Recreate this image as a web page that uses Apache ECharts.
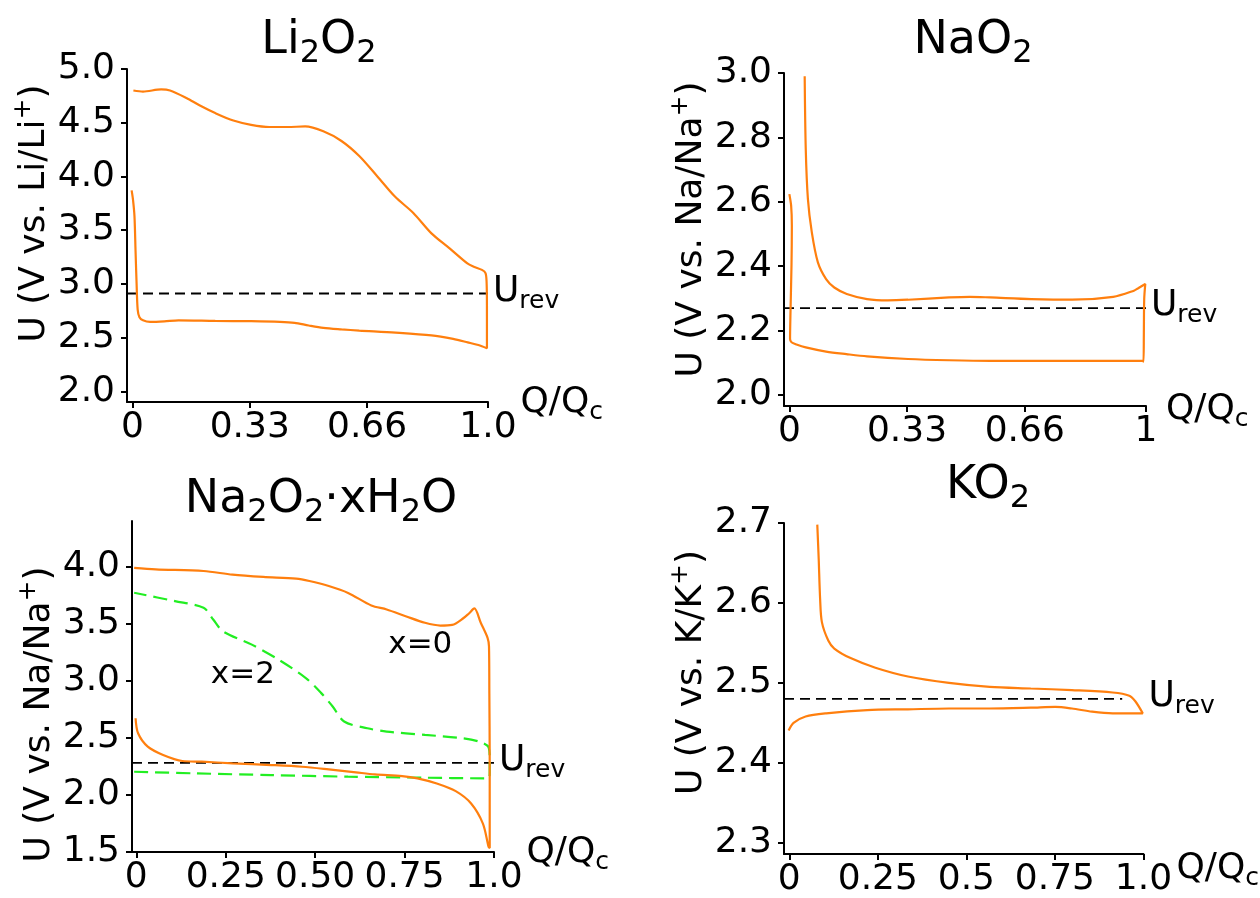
<!DOCTYPE html>
<html>
<head>
<meta charset="utf-8">
<script src="https://cdn.jsdelivr.net/npm/echarts@6/dist/echarts.min.js"></script>
<style>
  html, body { margin: 0; padding: 0; background: #fff; }
  #chart { width: 1260px; height: 898px; }
</style>
</head>
<body>
<div id="chart"></div>
<script>
// ---------------- data ----------------
// Li2O2: discharge, jump at Q=1, charge back to Q=0
var liQ = [-0.002, 0.002, 0.006, 0.009, 0.012, 0.015, 0.02, 0.03, 0.05, 0.09, 0.13, 0.233, 0.334, 0.415, 0.456, 0.496, 0.537, 0.588, 0.638, 0.74, 0.841, 0.902, 0.943, 0.973, 0.997,
           0.997, 0.997, 0.996, 0.993, 0.983, 0.96, 0.942, 0.892, 0.841, 0.79, 0.739, 0.689, 0.638, 0.588, 0.537, 0.486, 0.436, 0.385, 0.334, 0.284, 0.233, 0.19, 0.152, 0.106, 0.081, 0.03, 0.003];
var liU = [3.87, 3.78, 3.63, 3.31, 3.0, 2.76, 2.69, 2.66, 2.645, 2.65, 2.66, 2.655, 2.652, 2.646, 2.637, 2.612, 2.59, 2.576, 2.565, 2.546, 2.52, 2.487, 2.455, 2.43, 2.40,
           2.50, 2.80, 3.02, 3.10, 3.13, 3.16, 3.19, 3.33, 3.47, 3.66, 3.81, 4.0, 4.19, 4.33, 4.42, 4.465, 4.46, 4.46, 4.48, 4.52, 4.59, 4.66, 4.73, 4.80, 4.81, 4.79, 4.80];

// NaO2
var naQ = [0.0, 0.005, 0.007, 0.006, 0.003, 0.002, 0.006, 0.02, 0.046, 0.103, 0.16, 0.218, 0.333, 0.448, 0.563, 0.678, 0.793, 0.9, 0.991, 0.993, 0.994, 0.995, 0.998,
           0.977, 0.966, 0.908, 0.793, 0.678, 0.563, 0.506, 0.448, 0.333, 0.276, 0.218, 0.161, 0.126, 0.103, 0.08, 0.063, 0.052, 0.046, 0.043];
var naU = [2.624, 2.588, 2.526, 2.402, 2.246, 2.174, 2.164, 2.157, 2.148, 2.135, 2.127, 2.12, 2.112, 2.108, 2.106, 2.106, 2.106, 2.106, 2.106, 2.104, 2.195, 2.298, 2.345,
           2.331, 2.324, 2.305, 2.296, 2.298, 2.303, 2.305, 2.303, 2.296, 2.294, 2.298, 2.314, 2.334, 2.36, 2.412, 2.505, 2.609, 2.764, 2.99];

// Na2O2·xH2O, x = 0 (orange)
var na0Q = [-0.002, 0.005, 0.032, 0.075, 0.129, 0.183, 0.269, 0.377, 0.463, 0.538, 0.614, 0.667, 0.743, 0.786, 0.84, 0.893, 0.936, 0.969, 0.985, 0.988,
            0.988, 0.987, 0.986, 0.982, 0.963, 0.945, 0.93, 0.915, 0.883, 0.85, 0.807, 0.753, 0.70, 0.657, 0.592, 0.538, 0.484, 0.447, 0.355, 0.269, 0.188, 0.054, -0.006];
var na0U = [2.672, 2.54, 2.423, 2.35, 2.297, 2.291, 2.277, 2.262, 2.247, 2.224, 2.198, 2.18, 2.165, 2.145, 2.10, 2.033, 1.925, 1.749, 1.544, 1.535,
            2.306, 2.89, 3.30, 3.376, 3.508, 3.634, 3.59, 3.55, 3.49, 3.484, 3.508, 3.566, 3.625, 3.66, 3.77, 3.83, 3.874, 3.895, 3.91, 3.93, 3.962, 3.977, 3.99];

// Na2O2·xH2O, x = 2 (green dashed)
var na2Q = [-0.006, 0.161, 0.377, 0.592, 0.807, 0.985, 0.988, 0.988, 0.985, 0.958, 0.915, 0.807, 0.70, 0.646, 0.581, 0.549, 0.517, 0.474, 0.398, 0.323, 0.242, 0.215, 0.188, 0.108, -0.006];
var na2U = [2.203, 2.189, 2.174, 2.16, 2.151, 2.145, 2.20, 2.306, 2.417, 2.467, 2.496, 2.526, 2.555, 2.584, 2.643, 2.775, 2.892, 3.024, 3.185, 3.317, 3.434, 3.537, 3.64, 3.698, 3.771];

// KO2
var kQ = [-0.002, 0.012, 0.046, 0.104, 0.22, 0.335, 0.451, 0.566, 0.682, 0.751, 0.798, 0.855, 0.913, 0.998,
          0.977, 0.96, 0.913, 0.798, 0.682, 0.566, 0.451, 0.335, 0.243, 0.173, 0.127, 0.11, 0.092, 0.087, 0.083, 0.079];
var kU = [2.4405, 2.45, 2.458, 2.462, 2.466, 2.467, 2.468, 2.468, 2.469, 2.47, 2.468, 2.464, 2.462, 2.462,
          2.477, 2.484, 2.488, 2.491, 2.493, 2.495, 2.5, 2.508, 2.519, 2.531, 2.543, 2.553, 2.576, 2.605, 2.655, 2.698];

// reversible potentials and the Q range of their dashed lines
var uRev = [2.91, 2.27, 2.28, 2.48];
var uRevQ = [[-0.015, 1.0], [-0.015, 1.0], [-0.012, 1.0], [-0.015, 0.94]];

// curve labels in the Na2O2·xH2O panel
var curveLabelText = ['x=0', 'x=2'];
var curveLabelQ = [0.794, 0.298];
var curveLabelU = [3.317, 3.053];

// ticks
var xTicks = [[0, 0.33, 0.66, 1.0], [0, 0.33, 0.66, 1.0], [0, 0.25, 0.5, 0.75, 1.0], [0, 0.25, 0.5, 0.75, 1.0]];
var xTickLabels = [['0', '0.33', '0.66', '1.0'], ['0', '0.33', '0.66', '1'], ['0', '0.25', '0.50', '0.75', '1.0'], ['0', '0.25', '0.5', '0.75', '1.0']];
var yTicks = [[2.0, 2.5, 3.0, 3.5, 4.0, 4.5, 5.0], [2.0, 2.2, 2.4, 2.6, 2.8, 3.0], [1.5, 2.0, 2.5, 3.0, 3.5, 4.0], [2.3, 2.4, 2.5, 2.6, 2.7]];
var yTickLabels = [['2.0', '2.5', '3.0', '3.5', '4.0', '4.5', '5.0'], ['2.0', '2.2', '2.4', '2.6', '2.8', '3.0'], ['1.5', '2.0', '2.5', '3.0', '3.5', '4.0'], ['2.3', '2.4', '2.5', '2.6', '2.7']];
var yRange = [[1.9, 5.0], [1.966, 3.0], [1.5, 4.4], [2.286, 2.7]];
var xMin = [-0.015, -0.015, -0.012, -0.015];

// ---------------- chart ----------------
var FONT = 'DejaVu Sans';
var ORANGE = '#ff7f0e';
var GREEN = '#22ee22';

var chart = echarts.init(document.getElementById('chart'));

function pairs(q, u) {
    return q.map(function (v, k) { return [v, u[k]]; });
}
function lookup(vals, labels) {
    return function (v) {
        for (var k = 0; k < vals.length; k++) {
            if (Math.abs(vals[k] - v) < 1e-6) return labels[k];
        }
        return '';
    };
}

var subRich = {
    m: { fontSize: 36, fontFamily: FONT, color: '#000', lineHeight: 40, verticalAlign: 'bottom', padding: [0, 0, 4, 0] },
    s: { fontSize: 25, fontFamily: FONT, color: '#000', lineHeight: 25, verticalAlign: 'bottom' }
};
var supRich = {
    m: { fontSize: 36, fontFamily: FONT, color: '#000', lineHeight: 42, verticalAlign: 'bottom' },
    p: { fontSize: 25, fontFamily: FONT, color: '#000', lineHeight: 25, verticalAlign: 'top' }
};
var titleRich = {
    m: { fontSize: 46, fontFamily: FONT, fill: '#000', color: '#000', lineHeight: 48, verticalAlign: 'bottom', padding: [0, 0, 6, 0] },
    s: { fontSize: 32, fontFamily: FONT, fill: '#000', color: '#000', lineHeight: 32, verticalAlign: 'bottom' }
};

// layout of the four panels (pixel boxes of the axes)
var grids = [
    { left: 127, top: 69, width: 361, height: 333 },
    { left: 784, top: 73, width: 362, height: 333 },
    { left: 132, top: 521, width: 362, height: 331 },
    { left: 784, top: 523, width: 360, height: 333 }
];
var yNames = ['U (V vs. Li/Li}{p|+}{m|)', 'U (V vs. Na/Na}{p|+}{m|)', 'U (V vs. Na/Na}{p|+}{m|)', 'U (V vs. K/K}{p|+}{m|)'];
var yNamePad = [[0, 0, 0, 44], [0, 0, 0, 20], [0, 56, 0, 0], [0, 0, 0, 32]];
var xNameGap = [30, 20, 25, 33];
var xNamePad = [[6, 0, 0, 0], [12, 0, 0, 0], [6, 0, 0, 0], [34, 0, 0, 0]];

var titles = [
    { text: '{m|Li}{s|2}{m|O}{s|2}', x: 319, y: 70 },
    { text: '{m|NaO}{s|2}', x: 973, y: 70 },
    { text: '{m|Na}{s|2}{m|O}{s|2}{m|·xH}{s|2}{m|O}', x: 321, y: 529 },
    { text: '{m|KO}{s|2}', x: 988, y: 515 }
];

var xAxes = [], yAxes = [], series = [];
for (var i = 0; i < 4; i++) {
    xAxes.push({
        type: 'value', gridIndex: i, min: xMin[i], max: 1.0,
        name: '{m|Q/Q}{s|c}', nameLocation: 'end', nameGap: xNameGap[i],
        nameTextStyle: { rich: subRich, padding: xNamePad[i] },
        axisLine: { show: true, onZero: false, lineStyle: { color: '#000', width: 2 } },
        axisTick: { show: true, customValues: xTicks[i], length: 6, lineStyle: { color: '#000', width: 2 } },
        axisLabel: { customValues: xTicks[i], formatter: lookup(xTicks[i], xTickLabels[i]), color: '#000', fontSize: 36, fontFamily: FONT, margin: 8 },
        splitLine: { show: false }
    });
    yAxes.push({
        type: 'value', gridIndex: i, min: yRange[i][0], max: yRange[i][1],
        name: '{m|' + yNames[i] + '}', nameLocation: 'middle', nameGap: 74,
        nameTextStyle: { rich: supRich, padding: yNamePad[i] },
        axisLine: { show: true, onZero: false, lineStyle: { color: '#000', width: 2 } },
        axisTick: { show: true, customValues: yTicks[i], length: 6, lineStyle: { color: '#000', width: 2 } },
        axisLabel: { customValues: yTicks[i], formatter: lookup(yTicks[i], yTickLabels[i]), color: '#000', fontSize: 36, fontFamily: FONT, margin: 12 },
        splitLine: { show: false }
    });
    // reversible potential (dashed) and its label
    series.push({
        type: 'line', xAxisIndex: i, yAxisIndex: i, showSymbol: false, silent: true, z: 1,
        data: [[uRevQ[i][0], uRev[i]], [uRevQ[i][1], uRev[i]]],
        lineStyle: { color: '#000', width: 1.8, type: [10, 6] }
    });
    series.push({
        type: 'scatter', xAxisIndex: i, yAxisIndex: i, symbolSize: 0, silent: true,
        itemStyle: { opacity: 1 },
        data: [[1.0, uRev[i]]],
        label: { show: true, position: 'right', distance: 5, color: '#000', opacity: 1, formatter: '{m|U}{s|rev}', rich: subRich }
    });
}

var curves = [
    { idx: 0, data: pairs(liQ, liU), color: ORANGE, dash: 'solid' },
    { idx: 1, data: pairs(naQ, naU), color: ORANGE, dash: 'solid' },
    { idx: 2, data: pairs(na2Q, na2U), color: GREEN, dash: [14, 7] },
    { idx: 2, data: pairs(na0Q, na0U), color: ORANGE, dash: 'solid' },
    { idx: 3, data: pairs(kQ, kU), color: ORANGE, dash: 'solid' }
];
curves.forEach(function (c) {
    series.push({
        type: 'line', xAxisIndex: c.idx, yAxisIndex: c.idx, showSymbol: false, z: 3,
        smooth: 0.3,
        data: c.data,
        lineStyle: { color: c.color, width: 2.2, type: c.dash }
    });
});

series.push({
    type: 'scatter', xAxisIndex: 2, yAxisIndex: 2, symbolSize: 0, silent: true,
    itemStyle: { opacity: 1 },
    data: curveLabelQ.map(function (q, k) { return { value: [q, curveLabelU[k]], name: curveLabelText[k] }; }),
    label: { show: true, position: 'inside', formatter: '{b}', color: '#000', opacity: 1, fontSize: 31, fontFamily: FONT }
});

var option = {
    animation: false,
    backgroundColor: '#fff',
    grid: grids,
    xAxis: xAxes,
    yAxis: yAxes,
    series: series,
    graphic: titles.map(function (t) {
        return {
            type: 'text', x: t.x, y: t.y, silent: true,
            style: { text: t.text, rich: titleRich, textAlign: 'center', textVerticalAlign: 'bottom', align: 'center', verticalAlign: 'bottom', fill: '#000' }
        };
    })
};
chart.setOption(option);
</script>
</body>
</html>
